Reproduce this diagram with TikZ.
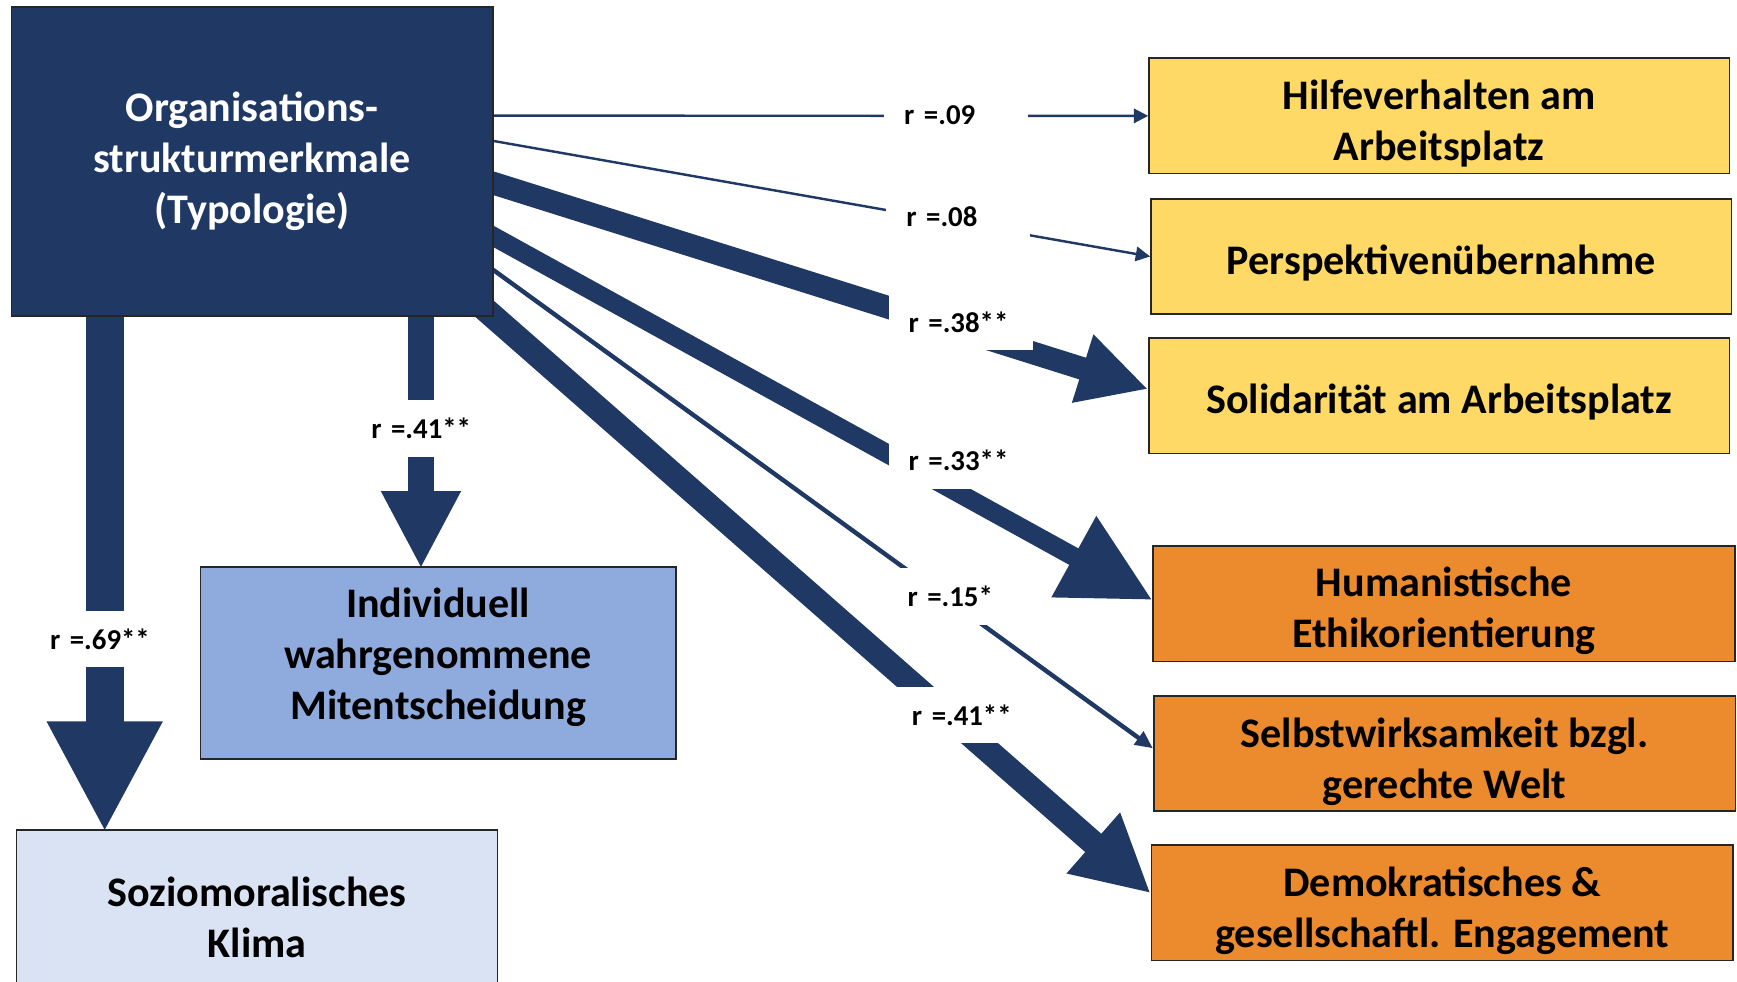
\documentclass[tikz,border=0pt]{standalone}
\usepackage{fontspec}
\setmainfont{Carlito}
\usetikzlibrary{arrows.meta,calc}
\definecolor{navy}{HTML}{203864}
\definecolor{gold}{HTML}{FFD966}
\definecolor{orng}{HTML}{EC8B2E}
\definecolor{midblue}{HTML}{8FAADC}
\definecolor{paleblue}{HTML}{DAE3F3}
\pgfdeclarelayer{bg}
\pgfsetlayers{bg,main}
\begin{document}
\begin{tikzpicture}[x=1pt,y=-1pt,
  boxfont/.style={font=\fontsize{38}{46}\selectfont\bfseries},
  box/.style={draw=black!85, line width=1.5pt, inner sep=0pt, align=center, boxfont},
  btxt/.style={inner sep=0pt, align=center, boxfont},
  ybox/.style={box, fill=gold, minimum width=524pt, minimum height=104pt},
  obox/.style={box, fill=orng, minimum width=525pt, minimum height=104pt},
  conn/.style={draw=navy, fill=navy, line cap=butt},
  lbl/.style={fill=white, inner ysep=0pt, inner xsep=18pt, text width=94pt,
    minimum height=51pt, align=left, anchor=west,
    font=\fontsize{26}{30}\selectfont\bfseries}
]
\useasboundingbox (0,0) rectangle (1568,886);

% boxes
\node[box, fill=navy, text=white, minimum width=434.6pt, minimum height=279.3pt]
  (main) at (227.7,145.7) {Organisations-\\strukturmerkmale\\(Typologie)};
\node[ybox, label={[btxt,yshift=-6.5pt]center:{Hilfeverhalten am\\Arbeitsplatz}}]
  (hilfe) at (1299.2,104.6) {};
\node[ybox, label={[btxt,yshift=-6pt]center:{Perspektivenübernahme}}]
  (persp) at (1301,231.5) {};
\node[ybox, label={[btxt,yshift=-6pt]center:{Solidarität am Arbeitsplatz}}]
  (sol) at (1299.2,357.3) {};
\node[obox, label={[btxt,yshift=-6.5pt]center:{Humanistische\\Ethikorientierung}}]
  (hum) at (1303.5,545) {};
\node[obox, label={[btxt,yshift=-8pt]center:{Selbstwirksamkeit bzgl.\\gerechte Welt}}]
  (selbst) at (1304,680) {};
\node[obox, label={[btxt,yshift=-7pt]center:{Demokratisches \&\\gesellschaftl. Engagement}}]
  (demo) at (1302,815) {};
\node[box, fill=midblue, minimum width=429pt, minimum height=173pt,
  label={[btxt,yshift=5pt]center:{Individuell\\wahrgenommene\\Mitentscheidung}}]
  (indiv) at (395.5,598.5) {};
\node[box, fill=paleblue, minimum width=434pt, minimum height=158pt]
  (sozio) at (232,828) {Soziomoralisches\\Klima};

% connectors
\begin{pgfonlayer}{bg}
\draw[conn, line width=2.2pt, -{Triangle[length=13pt,width=13pt]}]
  ([yshift=41.3pt]main.east) -- (hilfe.west);
\draw[conn, line width=2.2pt, -{Triangle[length=13pt,width=13pt]}]
  ([yshift=18.4pt]main.east) -- (persp.west);
\draw[conn, line width=20.5pt, shorten <=-20pt, -{Triangle[length=62pt,width=60pt]}]
  ([yshift=-19.8pt]main.east) -- ([yshift=6pt]sol.west);
\draw[conn, line width=17pt, shorten <=-20pt, -{Triangle[length=81pt,width=79pt]}]
  ([yshift=-67.9pt]main.east) -- ([yshift=3.4pt]hum.west);
\draw[conn, line width=4pt, shorten <=-4pt, -{Triangle[length=16pt,width=14pt]}]
  ([yshift=-98.3pt]main.east) -- ([yshift=4.5pt]selbst.west);
\draw[conn, line width=22pt, shorten <=-30pt, -{Triangle[length=69pt,width=68pt]}]
  (main.south east) -- ([yshift=8.6pt]demo.west);
\draw[conn, line width=24pt, shorten >=-2pt, -{Triangle[length=70pt,width=67pt]}]
  ([xshift=152.3pt]main.south) -- ([xshift=152.3pt]main.south |- indiv.north);
\draw[conn, line width=34pt, shorten >=-3pt, -{Triangle[length=100pt,width=97pt]}]
  ([xshift=-133.2pt]main.south) -- ([xshift=-133.2pt]main.south |- sozio.north);
\end{pgfonlayer}

% labels
\node[lbl] (l09) at (798,104) {r =.09};
\node[lbl] (l08) at (800,196) {r =.08};
\node[lbl] (l38) at (802,290.5) {r =.38**};
\node[lbl] (l33) at (802,415.5) {r =.33**};
\node[lbl] (l15) at (801,538.5) {r =.15*};
\node[lbl] (l41d) at (805,645.5) {r =.41**};
\node[lbl] (l41v) at (317,387) {r =.41**};
\node[lbl] (l69) at (27,577) {r =.69**};
\end{tikzpicture}
\end{document}
